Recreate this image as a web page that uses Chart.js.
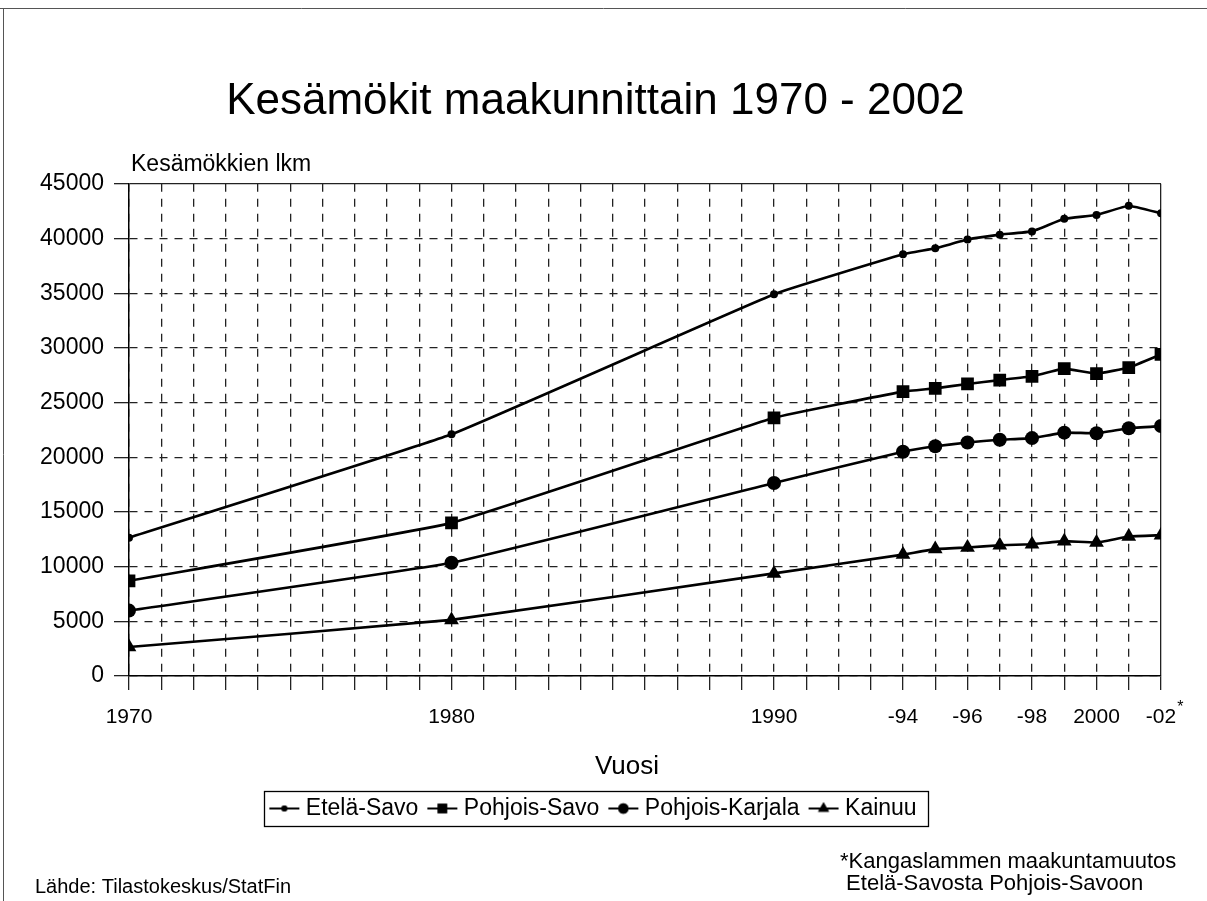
<!DOCTYPE html>
<html><head><meta charset="utf-8">
<script src="https://cdn.jsdelivr.net/npm/chart.js@4"></script>
<style>html,body{margin:0;padding:0;background:#fff;}canvas{display:block;}</style>
</head><body>
<canvas id="c" width="1207" height="901"></canvas>
<script>
const years = [1970,1980,1990,1994,1995,1996,1997,1998,1999,2000,2001,2002];
const seriesNames = ['Etelä-Savo','Pohjois-Savo','Pohjois-Karjala','Kainuu'];
const etelaSavo      = [12650,22100,34900,38550,39100,39900,40350,40650,41800,42150,43000,42300];
const pohjoisSavo    = [8700,14000,23600,26000,26300,26700,27050,27400,28100,27650,28200,29400];
const pohjoisKarjala = [5980,10350,17650,20500,21000,21350,21600,21750,22250,22200,22650,22850];
const kainuu         = [2650,5130,9380,11100,11600,11750,11950,12050,12330,12200,12750,12870];
const xTickYears = [1970,1980,1990,1994,1996,1998,2000,2002];
const xTickTexts = ['1970','1980','1990','-94','-96','-98','2000','-02'];
const yTicks = [0,5000,10000,15000,20000,25000,30000,35000,40000,45000];
const titleText = 'Kesämökit maakunnittain 1970 - 2002';
const yCaption = 'Kesämökkien lkm';
const xCaption = 'Vuosi';
const sourceText = 'Lähde: Tilastokeskus/StatFin';
const noteLines = ['*Kangaslammen maakuntamuutos', ' Etelä-Savosta Pohjois-Savoon'];

const FONT = "'Liberation Sans', Arial, sans-serif";
const styles = [
  {pointStyle:'circle', radius:4},
  {pointStyle:'rect', radius:9},
  {pointStyle:'circle', radius:7},
  {pointStyle:'triangle', radius:8.5}
];
const seriesValues = [etelaSavo, pohjoisSavo, pohjoisKarjala, kainuu];

function legendIcon(st){
  const cv = document.createElement('canvas');
  cv.width = 34; cv.height = 20;
  const g = cv.getContext('2d');
  g.strokeStyle = '#000'; g.lineWidth = 2;
  g.beginPath(); g.moveTo(2,10); g.lineTo(32,10); g.stroke();
  g.fillStyle = '#000';
  Chart.helpers.drawPoint(g, {pointStyle: st.pointStyle, radius: st.radius*0.75, rotation:0, borderWidth:0}, 17, 10);
  g.fill();
  return cv;
}

const datasets = seriesNames.map((name,i)=>({
  label: name,
  data: years.map((y,j)=>({x:y, y:seriesValues[i][j]})),
  borderColor:'#000', backgroundColor:'#000',
  borderWidth:2.6,
  pointStyle: styles[i].pointStyle,
  pointRadius: styles[i].radius,
  pointBackgroundColor:'#000', pointBorderColor:'#000', pointBorderWidth:0,
  tension:0.1, fill:false
}));

const extras = {
  id:'extras',
  afterDraw(chart){
    const ctx = chart.ctx, ca = chart.chartArea;
    ctx.save();
    ctx.fillStyle = '#000';
    ctx.textBaseline = 'middle';
    ctx.textAlign = 'left';
    ctx.font = '23px ' + FONT;
    ctx.fillText(yCaption, ca.left + 2, 165);
    // x axis caption
    ctx.textAlign = 'center';
    ctx.font = '26px ' + FONT;
    ctx.fillText(xCaption, 627, 767);
    ctx.textAlign = 'left';
    // superscript asterisk on last tick label
    const xs = chart.scales.x;
    const xp = xs.getPixelForValue(2002);
    ctx.font = '21px ' + FONT;
    const w = ctx.measureText('-02').width;
    ctx.font = '16px ' + FONT;
    ctx.fillText('*', xp + w/2 + 1, 708);
    // source
    ctx.font = '20px ' + FONT;
    ctx.fillText(sourceText, 35, 887);
    ctx.font = '22px ' + FONT;
    ctx.fillText(noteLines[0], 840, 862);
    ctx.fillText(noteLines[1], 840, 884);
    // legend frame
    const lg = chart.legend;
    if (lg && lg.legendHitBoxes.length){
      const hb = lg.legendHitBoxes;
      const l = Math.min(...hb.map(h=>h.left)) - 10;
      const r = Math.max(...hb.map(h=>h.left+h.width)) + 12;
      const t = Math.min(...hb.map(h=>h.top)) - 6;
      const b = Math.max(...hb.map(h=>h.top+h.height)) + 6;
      ctx.strokeStyle = '#000'; ctx.lineWidth = 1.3;
      ctx.strokeRect(Math.round(l)+0.5, Math.round(t)+0.5, Math.round(r-l), Math.round(b-t));
    }
    // page frame (scan edge)
    ctx.strokeStyle = '#555'; ctx.lineWidth = 1;
    ctx.beginPath(); ctx.moveTo(3.5, 8); ctx.lineTo(3.5, 901); ctx.stroke();
    ctx.beginPath(); ctx.moveTo(0, 8.5); ctx.lineTo(1207, 8.5); ctx.stroke();
    ctx.restore();
  }
};

new Chart(document.getElementById('c'), {
  type:'line',
  data:{datasets},
  plugins:[extras],
  options:{
    responsive:false, animation:false,
    layout:{padding:{left:30, right:46, top:0, bottom:71}},
    plugins:{
      tooltip:{enabled:false},
      title:{display:true, text:titleText, color:'#000',
        font:{family:FONT, size:44, weight:'normal'}, padding:{top:75, bottom:56}},
      legend:{position:'bottom',
        labels:{color:'#000', font:{family:FONT, size:23}, usePointStyle:true, pointStyleWidth:20, boxHeight:20, padding:14,
          generateLabels(chart){
            return chart.data.datasets.map((ds,i)=>({
              text: ds.label, fillStyle:'#000', strokeStyle:'#000', lineWidth:0,
              pointStyle: legendIcon(styles[i]), datasetIndex:i, hidden:false, fontColor:'#000'
            }));
          }}}
    },
    scales:{
      x:{type:'linear', min:1970, max:2002,
        afterFit(s){ s.height = 107; },
        afterBuildTicks(s){ s.ticks = Array.from({length:33},(_,k)=>({value:1970+k})); },
        ticks:{autoSkip:false, maxRotation:0, color:'#000', padding:15,
          font:{family:FONT, size:21},
          callback(v){ const k = xTickYears.indexOf(v); return k>=0 ? xTickTexts[k] : ''; }},
        grid:{color:'#222', lineWidth:1.3, tickLength:14, tickColor:'#222', tickWidth:1.3, tickBorderDash:[]},
        border:{display:true, color:'#000', width:1.5,
          dash(ctx){ return (ctx.tick && ctx.tick.value===2002) ? [] : [8,7]; }}
      },
      y:{min:0, max:45000,
        afterFit(s){ s.width = 99; },
        afterBuildTicks(s){ s.ticks = yTicks.map(v=>({value:v})); },
        ticks:{color:'#000', padding:10, font:{family:FONT, size:23}, callback(v){ return String(v); }},
        grid:{color:'#222', lineWidth:1.3, tickLength:15, tickColor:'#222', tickWidth:1.3, tickBorderDash:[]},
        border:{display:true, color:'#000', width:1.5,
          dash(ctx){ return (ctx.tick && ctx.tick.value===45000) ? [] : [8,7]; }}
      }
    }
  }
});
</script>
</body></html>
